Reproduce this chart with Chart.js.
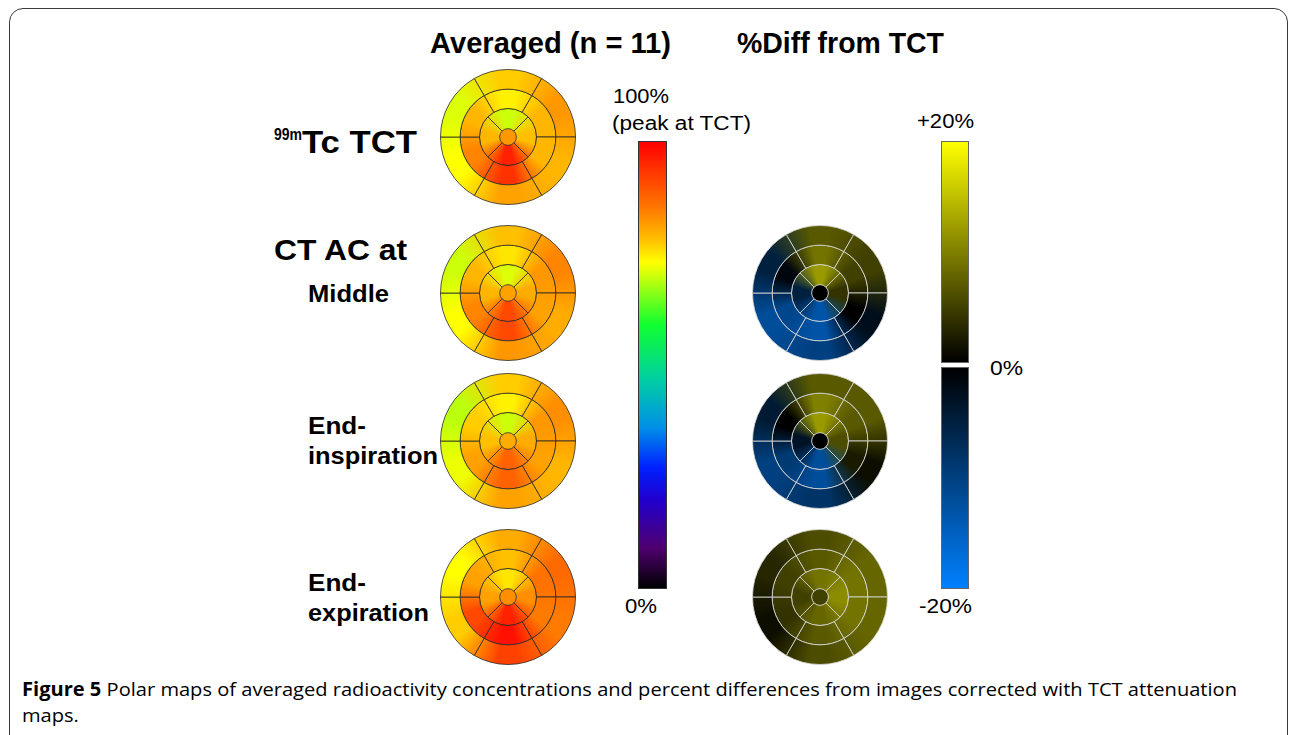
<!DOCTYPE html>
<html>
<head>
<meta charset="utf-8">
<script src="https://cdn.jsdelivr.net/npm/chart.js@4.4.1/dist/chart.umd.min.js"></script>
<style>
  body { margin: 0; background: #fff; width: 1290px; height: 735px; overflow: hidden; position: relative; font-family: "Liberation Sans", Arial, sans-serif; }
  .frame { position: absolute; left: 9px; top: 8px; width: 1277px; height: 800px; border: 1.5px solid #3a3a3a; border-radius: 14px; }
  .map { position: absolute; width: 136px; height: 136px; }
  .lbl { position: absolute; white-space: nowrap; line-height: 1; transform-origin: 0 0; color: #000; }
  .bar { position: absolute; box-sizing: border-box; border: 1px solid #333; }
</style>
</head>
<body>
<div class="frame"></div>

<div class="bar" style="left:638px; top:141px; width:29px; height:448px;
  background: linear-gradient(to bottom, #ff0000 0%, #ff7a00 15%, #ffc000 22%, #ffff00 27%, #10ff30 41%, #00d0a0 53%, #0090e8 64%, #0020ff 73%, #2000d0 80%, #500070 91%, #000000 100%);"></div>
<div class="bar" style="left:941px; top:141px; width:28px; height:222px; border-color:#666;
  background: linear-gradient(to bottom, #ffff00, #000000);"></div>
<div class="bar" style="left:941px; top:367px; width:28px; height:222px; border-color:#666;
  background: linear-gradient(to bottom, #000000, #0080ff);"></div>

<div class="map" style="left:440px; top:69px;"><canvas id="mapTct"></canvas></div>
<div class="map" style="left:440px; top:225px;"><canvas id="mapMiddle"></canvas></div>
<div class="map" style="left:440px; top:373px;"><canvas id="mapInsp"></canvas></div>
<div class="map" style="left:440px; top:529px;"><canvas id="mapExp"></canvas></div>
<div class="map" style="left:752px; top:225px;"><canvas id="diffMiddle"></canvas></div>
<div class="map" style="left:752px; top:373px;"><canvas id="diffInsp"></canvas></div>
<div class="map" style="left:752px; top:529px;"><canvas id="diffExp"></canvas></div>

<script>
// 17-segment order (AHA): 1-6 basal, 7-12 mid, 13-16 apical, 17 apex
const segmentNames = ['Basal anterior','Basal anteroseptal','Basal inferoseptal','Basal inferior','Basal inferolateral','Basal anterolateral',
  'Mid anterior','Mid anteroseptal','Mid inferoseptal','Mid inferior','Mid inferolateral','Mid anterolateral',
  'Apical anterior','Apical septal','Apical inferior','Apical lateral','Apex'];

// averaged uptake, % of peak at TCT
const tctValues    = [77, 71, 73, 81, 79, 82,  74, 79, 84, 94, 79, 79,  70, 79, 96, 78,  82];
const middleValues = [78, 70, 73, 82, 80, 84,  75, 79, 84, 91, 81, 82,  71, 79, 91, 80,  81];
const inspValues   = [77, 69, 72, 81, 79, 83,  74, 77, 81, 88, 81, 82,  70, 78, 88, 80,  80];
const expValues    = [80, 73, 77, 92, 85, 87,  78, 81, 91, 98, 85, 86,  75, 81, 96, 83,  83];

// % difference from TCT
const middleDiff = [7, -5, -12, -10, -2, 5,  9, -1, -11, -13, 0, 5,  12, -5, -13, 4,  0];
const inspDiff   = [7, -4, -10, -8, 1, 7,  10, 0, -9, -12, 2, 7,  12, -3, -12, 6,  0];
const expDiff    = [6, 3, 1, 6, 8, 8,  7, 5, 4, 7, 9, 9,  9, 5, 8, 11,  5];

// clockwise from the top of the bullseye
const rings = [
  { idx: [0, 5, 4, 3, 2, 1], rotation: -30, weight: 19.5, border: 1 },
  { idx: [6, 11, 10, 9, 8, 7], rotation: -30, weight: 19.2, border: 1 },
  { idx: [12, 15, 14, 13], rotation: -45, weight: 20, border: 1 },
  { idx: [16], rotation: 0, weight: 8.3, border: 0 }
];

const uptakeStops = [[0,'#000000'],[9,'#500070'],[20,'#2000d0'],[27,'#0020ff'],[36,'#0090e8'],[47,'#00d0a0'],
  [59,'#10ff30'],[73,'#ffff00'],[78,'#ffc000'],[85,'#ff7a00'],[100,'#ff0000']];
const diffStops = [[-20,'#0080ff'],[0,'#000000'],[20,'#ffff00']];

function hex(c) { return [1,3,5].map(i => parseInt(c.substr(i,2),16)); }
function scaleColor(stops, v) {
  if (v <= stops[0][0]) return stops[0][1];
  for (let i = 1; i < stops.length; i++) {
    if (v <= stops[i][0]) {
      const t = (v - stops[i-1][0]) / (stops[i][0] - stops[i-1][0]);
      const a = hex(stops[i-1][1]), b = hex(stops[i][1]);
      return 'rgb(' + a.map((x,k) => Math.round(x + (b[k]-x)*t)).join(',') + ')';
    }
  }
  return stops[stops.length-1][1];
}

function ringFill(c, vals, rotation, stops) {
  const area = c.chart.chartArea;
  if (!area || vals.length === 1) return scaleColor(stops, vals[c.dataIndex]);
  const cx = (area.left + area.right) / 2, cy = (area.top + area.bottom) / 2;
  const n = vals.length, step = 2 * Math.PI / n;
  const g = c.chart.ctx.createConicGradient((rotation - 90) * Math.PI / 180 + step / 2, cx, cy);
  vals.forEach((v, i) => {
    g.addColorStop(i / n, scaleColor(stops, v));
    g.addColorStop(Math.min((i + 0.15) / n, 1), scaleColor(stops, v));
    if (i > 0) g.addColorStop((i - 0.15) / n, scaleColor(stops, v));
  });
  g.addColorStop((n - 0.15) / n, scaleColor(stops, vals[0]));
  g.addColorStop(1, scaleColor(stops, vals[0]));
  return g;
}

function makeMap(id, values, stops, lineColor) {
  const datasets = rings.map(r => {
    const vals = r.idx.map(i => values[i]);
    return {
      data: r.idx.map(() => 1),
      label: r.idx.map(i => segmentNames[i]).join(', '),
      rotation: r.rotation,
      weight: r.weight,
      backgroundColor: (c) => ringFill(c, vals, r.rotation, stops),
      borderColor: lineColor,
      borderWidth: r.border,
      hoverOffset: 0
    };
  });
  return new Chart(document.getElementById(id), {
    type: 'doughnut',
    data: { labels: rings[0].idx.map(i => segmentNames[i]), datasets: datasets },
    options: {
      responsive: true,
      maintainAspectRatio: false,
      animation: false,
      events: [],
      cutout: 0,
      layout: { padding: 0 },
      plugins: { legend: { display: false }, tooltip: { enabled: false } }
    }
  });
}

makeMap('mapTct', tctValues, uptakeStops, 'rgba(40,40,40,0.8)');
makeMap('mapMiddle', middleValues, uptakeStops, 'rgba(40,40,40,0.8)');
makeMap('mapInsp', inspValues, uptakeStops, 'rgba(40,40,40,0.8)');
makeMap('mapExp', expValues, uptakeStops, 'rgba(40,40,40,0.8)');
makeMap('diffMiddle', middleDiff, diffStops, 'rgba(215,215,215,0.85)');
makeMap('diffInsp', inspDiff, diffStops, 'rgba(215,215,215,0.85)');
makeMap('diffExp', expDiff, diffStops, 'rgba(215,215,215,0.85)');

// text: [html, left, baseline, size, weight, width (null = same squeeze as previous), family]
const SANS = '"Liberation Sans", Arial, sans-serif';
const CAPTION = '"Open Sans", sans-serif';
const labels = [
  ['Averaged (n = 11)', 430, 53, 30, 700, 241, SANS],
  ['%Diff from TCT', 737, 53, 30, 700, 207, SANS],
  ['99m', 274, 141, 16, 700, 28, SANS],
  ['Tc TCT', 302, 153, 31, 700, 115, SANS],
  ['CT AC at', 274, 260, 30, 700, 133, SANS],
  ['Middle', 308, 302, 24, 700, 81, SANS],
  ['End-', 308, 434, 24, 700, 58, SANS],
  ['inspiration', 308, 464, 24, 700, 130, SANS],
  ['End-', 308, 591, 24, 700, 58, SANS],
  ['expiration', 308, 621, 24, 700, 121, SANS],
  ['100%', 613, 103, 20, 400, 56, SANS],
  ['(peak at TCT)', 612, 130, 20, 400, 139, SANS],
  ['0%', 625, 613, 20, 400, 32, SANS],
  ['+20%', 917, 128, 20, 400, 57, SANS],
  ['0%', 990, 375, 20, 400, 33, SANS],
  ['-20%', 919, 613, 20, 400, 53, SANS],
  ['<b>Figure 5</b> Polar maps of averaged radioactivity concentrations and percent differences from images corrected with TCT attenuation', 22, 697, 19, 400, 1215, CAPTION],
  ['maps.', 22, 723, 19, 400, null, CAPTION]
];

function placeLabels() {
  let lastScale = 1;
  labels.forEach(([html, x, base, size, weight, w, fam]) => {
    const el = document.createElement('div');
    el.className = 'lbl';
    el.innerHTML = html;
    el.style.fontFamily = fam;
    el.style.fontSize = size + 'px';
    el.style.fontWeight = weight;
    el.style.left = x + 'px';
    const k = fam === CAPTION ? 0.888 : 0.8465;
    el.style.top = (base - k * size) + 'px';
    document.body.appendChild(el);
    if (w) lastScale = w / el.getBoundingClientRect().width;
    el.style.transform = 'scaleX(' + lastScale + ')';
  });
}
if (document.fonts && document.fonts.ready) document.fonts.ready.then(placeLabels); else placeLabels();
</script>
</body>
</html>
